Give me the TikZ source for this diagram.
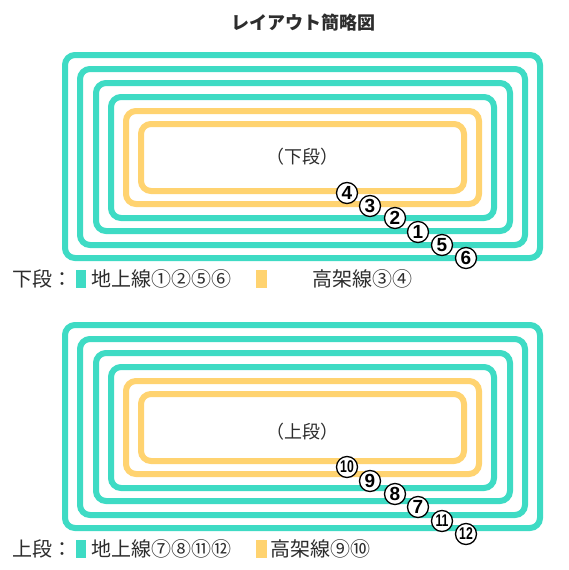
\documentclass[tikz,border=0pt]{standalone}
\usepackage{fontspec}
\setmainfont{Noto Sans CJK JP}
\newfontfamily\numfont{Liberation Sans}
\usepackage{xcolor}
\definecolor{groundline}{RGB}{62,219,196}
\definecolor{elevline}{RGB}{255,211,112}
\definecolor{inkgray}{RGB}{45,45,45}

\newcommand{\twodig}[1]{\scalebox{0.72}[1]{#1}}

\tikzset{
  ground/.style={draw=groundline, line width=6pt, rounded corners=10pt},
  elev/.style={draw=elevline, line width=6pt, rounded corners=10pt},
  trackno/.style={circle, draw=black, fill=white, line width=1.3pt, minimum size=21pt,
    inner sep=0pt, text=black, font=\numfont\bfseries\fontsize{19}{19}\selectfont},
  tracknn/.style={trackno, font=\numfont\bfseries\fontsize{17}{17}\selectfont},
  legendtxt/.style={anchor=west, inner sep=0pt, text=inkgray, font=\fontsize{20}{20}\selectfont},
}

\begin{document}
\begin{tikzpicture}[x=1pt,y=-1pt]
        \useasboundingbox (0,0) rectangle (568,570);
        \node[text=inkgray, font=\bfseries\fontsize{18}{18}\selectfont] (title) at (303,23) {レイアウト簡略図};

        % lower tier
        \draw[ground] (65,55) rectangle (540,258);
        \draw[ground] (80,69) rectangle (525,245);
        \draw[ground] (96,83) rectangle (510,231);
        \draw[ground] (111,97) rectangle (494,218);
        \draw[elev] (126,111) rectangle (479,204);
        \draw[elev] (141,124) rectangle (464,191);
        \node[text=inkgray, font=\fontsize{18}{18}\selectfont] (lowname) at (302,157) {（下段）};
        \node[trackno] (n4) at (347,193) {4};
        \node[trackno] (n3) at (370,206) {3};
        \node[trackno] (n2) at (395,218) {2};
        \node[trackno] (n1) at (418,232) {1};
        \node[trackno] (n5) at (442,245) {5};
        \node[trackno] (n6) at (466,258) {6};

        \node[legendtxt] (lowkey) at (12,279) {下段：};
        \fill[groundline] (76,270) rectangle (86,288);
        \node[legendtxt] (lowground) at (91,279) {地上線①②⑤⑥};
        \fill[elevline] (256,270) rectangle (267,288);
        \node[legendtxt] (lowelev) at (312,279) {高架線③④};

        % upper tier
        \draw[ground] (65,325) rectangle (540,528);
        \draw[ground] (80,339) rectangle (525,515);
        \draw[ground] (96,353) rectangle (510,501);
        \draw[ground] (111,367) rectangle (494,488);
        \draw[elev] (126,381) rectangle (479,474);
        \draw[elev] (141,394) rectangle (464,461);
        \node[text=inkgray, font=\fontsize{18}{18}\selectfont] (upname) at (302,432) {（上段）};
        \node[tracknn] (n10) at (347,467) {\twodig{10}};
        \node[trackno] (n9) at (370,481) {9};
        \node[trackno] (n8) at (395,494) {8};
        \node[trackno] (n7) at (418,507) {7};
        \node[tracknn] (n11) at (442,521) {\twodig{11}};
        \node[tracknn] (n12) at (466,534) {\twodig{12}};

        \node[legendtxt] (upkey) at (12,549) {上段：};
        \fill[groundline] (76,540) rectangle (86,558);
        \node[legendtxt] (upground) at (91,549) {地上線⑦⑧⑪⑫};
        \fill[elevline] (256,540) rectangle (267,558);
        \node[legendtxt] (upelev) at (270,549) {高架線⑨⑩};
    \end{tikzpicture}
\end{document}
